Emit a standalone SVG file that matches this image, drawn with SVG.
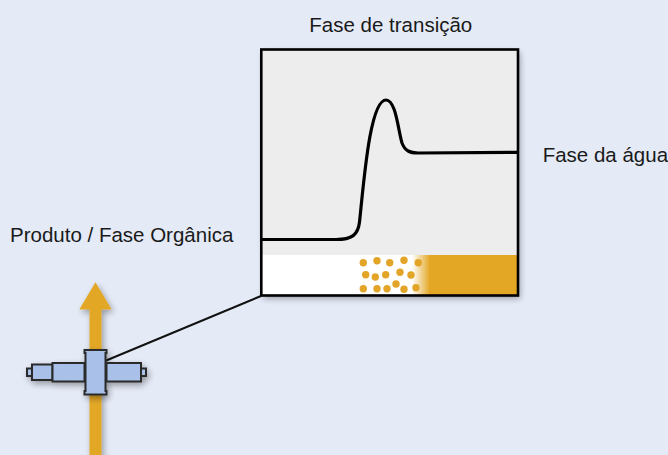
<svg xmlns="http://www.w3.org/2000/svg" width="668" height="455" viewBox="0 0 668 455">
  <style>
    .lbl { font-family: "Liberation Sans", Arial, sans-serif; font-size: 20.5px; fill: #1a1a1a; }
    .vp { fill: #A9C1E8; stroke: #2b2b2b; stroke-width: 2; stroke-linejoin: miter; }
    .dot { fill: #E3A528; }
  </style>
  <defs>
    <filter id="sh" x="-20%" y="-20%" width="140%" height="140%">
      <feGaussianBlur in="SourceAlpha" stdDeviation="3"/>
      <feOffset dx="2" dy="3" result="b"/>
      <feComponentTransfer><feFuncA type="linear" slope="0.35"/></feComponentTransfer>
      <feMerge><feMergeNode/><feMergeNode in="SourceGraphic"/></feMerge>
    </filter>
    <linearGradient id="fade" x1="412" y1="0" x2="430" y2="0" gradientUnits="userSpaceOnUse">
      <stop offset="0" stop-color="#E3A725" stop-opacity="0"/>
      <stop offset="1" stop-color="#E3A725" stop-opacity="1"/>
    </linearGradient>
  </defs>
  <rect width="668" height="455" fill="#E4EAF6"/>

  <g id="flow-arrow" filter="url(#sh)">
    <rect x="89.5" y="308" width="12" height="150" fill="#E3A725"/>
    <polygon points="79.3,309.5 95.5,282.3 111.7,309.5" fill="#E3A725"/>
  </g>

  <g id="connectors">
    <line x1="105" y1="361" x2="261" y2="296" stroke="#111" stroke-width="2"/>
  </g>

  <g id="sensor-valve" filter="url(#sh)">
    <rect class="vp" x="27" y="368.5" width="5" height="7.5"/>
    <rect class="vp" x="141" y="368.5" width="5" height="7.5"/>
    <rect class="vp" x="32" y="364.5" width="20.5" height="15.5"/>
    <rect class="vp" x="52.5" y="363" width="32" height="18.5"/>
    <rect class="vp" x="106.5" y="363" width="34.5" height="18.5"/>
    <path class="vp" d="M84.5,350 H106.5 V353 H105.5 V391 H106.5 V394.5 H84.5 V391 H85.5 V353 H84.5 Z"/>
  </g>

  <g id="phase-box">
    <rect x="261.3" y="49.5" width="256.7" height="246" fill="#EDEDED" filter="url(#sh)"/>
    <rect x="262" y="255" width="255" height="40" fill="#FFFFFF"/>
    <rect x="412" y="255" width="106" height="40" fill="url(#fade)"/>
    <rect x="429" y="255" width="89" height="40" fill="#E3A725"/>
    <g id="particles">
      <circle class="dot" cx="363.3" cy="262.7" r="3.7"/>
      <circle class="dot" cx="377" cy="260.7" r="3.7"/>
      <circle class="dot" cx="389.7" cy="262.7" r="3.7"/>
      <circle class="dot" cx="404" cy="260.3" r="3.7"/>
      <circle class="dot" cx="418.3" cy="262.7" r="3.7"/>
      <circle class="dot" cx="365.7" cy="274.7" r="3.7"/>
      <circle class="dot" cx="375.3" cy="277" r="3.7"/>
      <circle class="dot" cx="385.7" cy="274.7" r="3.7"/>
      <circle class="dot" cx="400" cy="272.3" r="3.7"/>
      <circle class="dot" cx="411" cy="275" r="3.7"/>
      <circle class="dot" cx="363.3" cy="288.7" r="3.7"/>
      <circle class="dot" cx="377" cy="288.7" r="3.7"/>
      <circle class="dot" cx="387" cy="288.7" r="3.7"/>
      <circle class="dot" cx="396" cy="284" r="3.7"/>
      <circle class="dot" cx="404" cy="289.3" r="3.7"/>
      <circle class="dot" cx="416" cy="287.7" r="3.7"/>
    </g>
    <path d="M261.5,239.5 L336,239.5 C352,239.5 358,235 359.5,222 C364,180 370,100 386,100 C396,100 398,130 402,143 C405,151 410,153 418,153 L518,152.3" fill="none" stroke="#000" stroke-width="3.2" stroke-linecap="butt"/>
    <rect x="261.3" y="49.5" width="256.7" height="246" fill="none" stroke="#000" stroke-width="2.6"/>
  </g>

  <g id="labels">
    <text class="lbl" x="309.3" y="31.7">Fase de transição</text>
    <text class="lbl" x="542.7" y="161.7">Fase da água</text>
    <text class="lbl" x="10" y="242.3">Produto / Fase Orgânica</text>
  </g>
</svg>
